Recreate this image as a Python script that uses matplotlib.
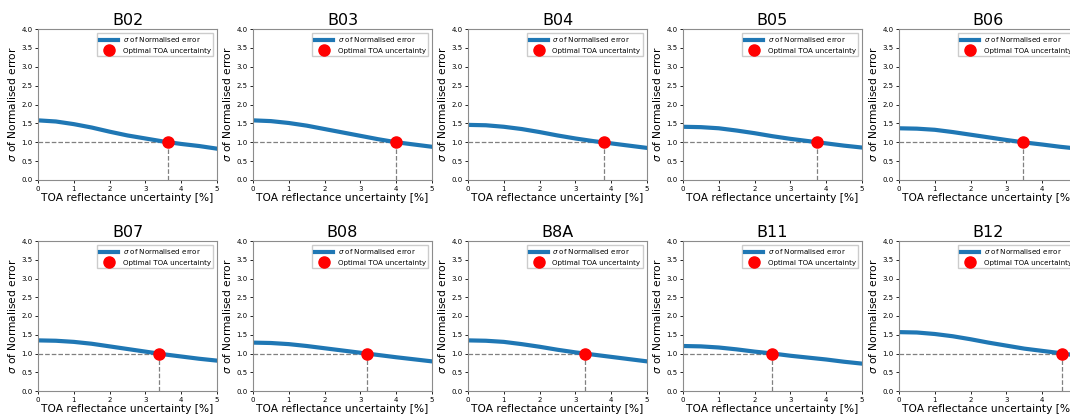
import matplotlib
matplotlib.use("Agg")
import matplotlib.pyplot as plt

# TOA reflectance uncertainty grid [%]
unc = [0, 0.5, 1, 1.5, 2, 2.5, 3, 3.5, 4, 4.5, 5]

bands = ["B02", "B03", "B04", "B05", "B06", "B07", "B08", "B8A", "B11", "B12"]

# sigma of the normalised error per band
sigma_b02 = [1.58, 1.55, 1.48, 1.39, 1.28, 1.18, 1.10, 1.02, 0.955, 0.90, 0.83]
sigma_b03 = [1.58, 1.56, 1.51, 1.44, 1.35, 1.26, 1.17, 1.08, 1.00, 0.94, 0.88]
sigma_b04 = [1.46, 1.45, 1.41, 1.35, 1.27, 1.18, 1.10, 1.03, 0.97, 0.91, 0.85]
sigma_b05 = [1.41, 1.40, 1.37, 1.31, 1.24, 1.16, 1.09, 1.03, 0.97, 0.91, 0.86]
sigma_b06 = [1.37, 1.36, 1.33, 1.27, 1.20, 1.13, 1.06, 0.995, 0.94, 0.88, 0.83]
sigma_b07 = [1.35, 1.34, 1.31, 1.26, 1.19, 1.12, 1.05, 0.98, 0.92, 0.86, 0.81]
sigma_b08 = [1.29, 1.28, 1.25, 1.20, 1.14, 1.08, 1.02, 0.96, 0.90, 0.845, 0.79]
sigma_b8a = [1.35, 1.34, 1.31, 1.25, 1.18, 1.10, 1.03, 0.97, 0.91, 0.85, 0.79]
sigma_b11 = [1.20, 1.19, 1.16, 1.11, 1.05, 1.00, 0.94, 0.89, 0.84, 0.78, 0.73]
sigma_b12 = [1.57, 1.56, 1.52, 1.46, 1.38, 1.29, 1.21, 1.13, 1.07, 1.01, 0.94]

sigmas = [sigma_b02, sigma_b03, sigma_b04, sigma_b05, sigma_b06,
          sigma_b07, sigma_b08, sigma_b8a, sigma_b11, sigma_b12]

# uncertainty where sigma crosses 1
optimal = [3.63, 3.99, 3.79, 3.75, 3.46, 3.38, 3.18, 3.27, 2.48, 4.55]

fig = plt.figure(figsize=(10.7, 4.16), dpi=100)

lefts = [38, 253, 468, 683, 899]
W, H = 1070.0, 416.0
rows = [(180, 151), (391, 150)]   # bottom edge and height in pixels

for i, band in enumerate(bands):
    r, c = divmod(i, 5)
    bottom, h = rows[r]
    ax = fig.add_axes([lefts[c] / W, (H - bottom) / H, 179 / W, h / H])

    ax.plot(unc, sigmas[i], color="#1f77b4", lw=3, label=r"$\sigma$ of Normalised error", zorder=2)
    xo = optimal[i]
    ax.plot([0, xo], [1, 1], ls="--", color="grey", lw=0.9, zorder=1)
    ax.plot([xo, xo], [0, 1], ls="--", color="grey", lw=0.9, zorder=1)
    ax.plot(xo, 1, "o", color="red", ms=8, label="Optimal TOA uncertainty", zorder=3)

    ax.set_xlim(0, 5)
    ax.set_ylim(0, 4)
    ax.set_yticks([0, 0.5, 1, 1.5, 2, 2.5, 3, 3.5, 4])
    ax.tick_params(labelsize=5, length=2.5, width=0.6, pad=1.5)
    for sp in ax.spines.values():
        sp.set_linewidth(0.8)
        sp.set_color("0.55")
    ax.set_title(band, fontsize=11.5, pad=3)
    ax.set_xlabel("TOA reflectance uncertainty [%]", fontsize=7.7, labelpad=1)
    ax.set_ylabel(r"$\sigma$ of Normalised error", fontsize=7.7, labelpad=2)
    ax.legend(loc="upper right", fontsize=5.1, handlelength=2.6, borderpad=0.4,
              labelspacing=0.45, handletextpad=0.6, fancybox=False,
              framealpha=1, edgecolor="0.8")

fig.savefig("out.png", dpi=100)
